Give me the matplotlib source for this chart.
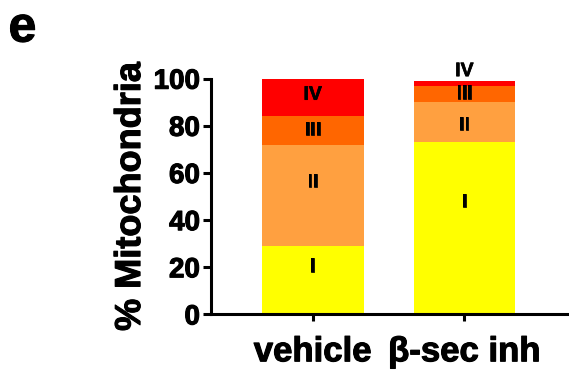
import matplotlib
matplotlib.use("Agg")
import matplotlib.pyplot as plt
import matplotlib.patheffects as pe
import matplotlib.transforms as mtransforms

# ---- data ----
groups = ["vehicle", "\u03b2-sec inh"]
stages = ["I", "II", "III", "IV"]
stage_I = [29, 73]
stage_II = [43, 17]
stage_III = [12, 7]
stage_IV = [16, 2]
yticks = [0, 20, 40, 60, 80, 100]
ylabel = "% Mitochondria"
panel = "e"

# ---- annotation placement (label y positions per stage, per group) ----
label_y = {
    "I": [20, 47.5],
    "II": [56, 80],
    "III": [78, 93.5],
    "IV": [93, 103],
}

# ---- styling ----
colors = ["#FFFF00", "#FFA040", "#FF6600", "#FF0000"]
plt.rcParams["font.family"] = ["Liberation Sans", "DejaVu Sans"]
plt.rcParams["font.weight"] = "bold"
heavy = [pe.withStroke(linewidth=0.8, foreground="black")]

fig = plt.figure(figsize=(5.69, 3.73), dpi=100)
ax = fig.add_axes([0.371, 0.157, 0.629, 0.632])

series = [stage_I, stage_II, stage_III, stage_IV]
x = list(range(len(groups)))
bottoms = [0.0] * len(groups)
for vals, col, name in zip(series, colors, stages):
    ax.bar(x, vals, width=0.67, bottom=bottoms, color=col, edgecolor="none")
    for xi, yl in zip(x, label_y[name]):
        ax.text(xi, yl, name, ha="center", va="center", fontsize=14,
                fontweight="bold", color="black", clip_on=False,
                path_effects=[pe.withStroke(linewidth=0.5, foreground="black")])
    bottoms = [bb + vv for bb, vv in zip(bottoms, vals)]

ax.set_xlim(-0.67, 1.69)
ax.set_ylim(0, 100)
ax.set_yticks(yticks)
ax.set_xticks(x)
ax.set_xticklabels(groups, fontsize=25, fontweight="bold")
ax.set_yticklabels([str(t) for t in yticks], fontsize=20, fontweight="bold")
ax.set_ylabel(ylabel, fontsize=26, fontweight="bold", labelpad=4)
for t in ax.get_xticklabels() + ax.get_yticklabels():
    t.set_path_effects(heavy)
ax.yaxis.label.set_path_effects(heavy)

# nudge second category label slightly right, as in the reference
xl = ax.get_xticklabels()
xl[1].set_transform(xl[1].get_transform() +
                    mtransforms.ScaledTranslation(8 / 100, 0, fig.dpi_scale_trans))

for s in ["top", "right"]:
    ax.spines[s].set_visible(False)
for s in ["left", "bottom"]:
    ax.spines[s].set_linewidth(2.2)
ax.tick_params(axis="y", direction="out", length=6, width=2.2, pad=2)
ax.tick_params(axis="x", direction="out", length=5, width=2.2, pad=10)
ax.spines["bottom"].set_capstyle("projecting")

fig.text(0.015, 0.985, panel, fontsize=36, fontweight="bold", ha="left", va="top",
         path_effects=heavy)

fig.savefig("out.png", dpi=100)
